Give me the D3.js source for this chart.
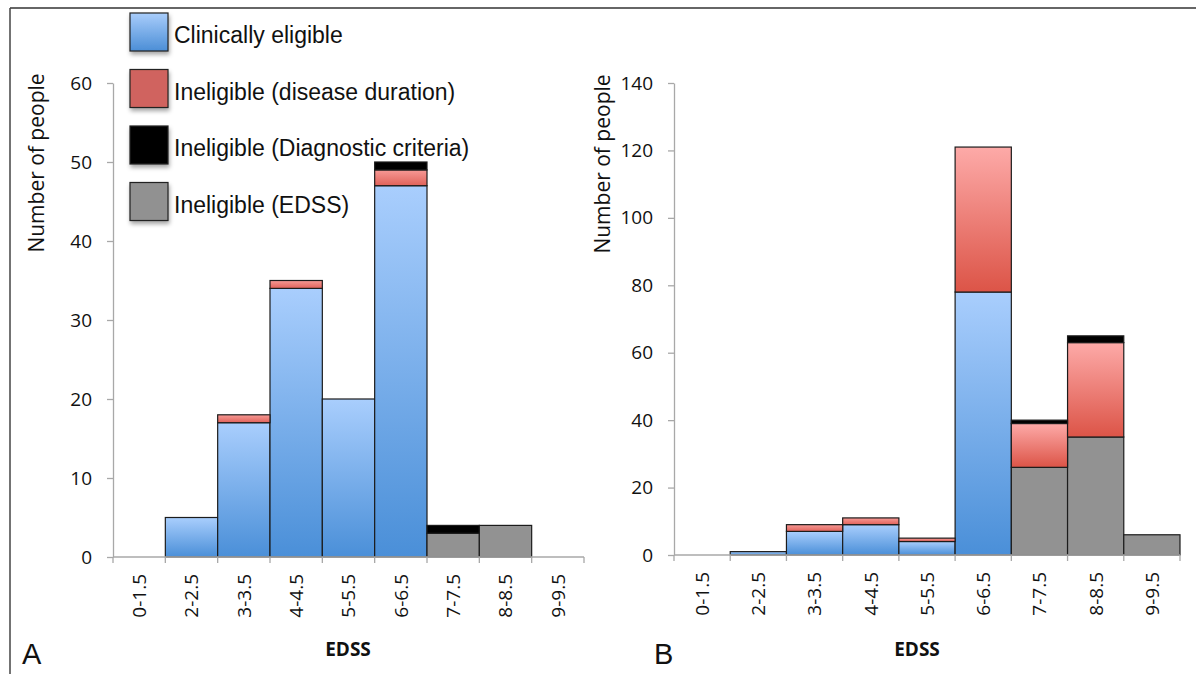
<!DOCTYPE html>
<html>
<head>
<meta charset="utf-8">
<script src="https://cdn.jsdelivr.net/npm/d3@7/dist/d3.min.js"></script>
<style>
  html, body { margin: 0; padding: 0; background: #fff; }
  svg { display: block; }
</style>
</head>
<body>
<svg id="chart" width="1196" height="674"></svg>
<script>
// ---------------- DATA ----------------
const categories = ["0-1.5", "2-2.5", "3-3.5", "4-4.5", "5-5.5", "6-6.5", "7-7.5", "8-8.5", "9-9.5"];
const seriesNames = ["Clinically eligible", "Ineligible (EDSS)", "Ineligible (disease duration)", "Ineligible (Diagnostic criteria)"];
const legendOrder = ["Clinically eligible", "Ineligible (disease duration)", "Ineligible (Diagnostic criteria)", "Ineligible (EDSS)"];

const aEligible   = [0, 5, 17, 34, 20, 47, 0, 0, 0];
const aEdss       = [0, 0, 0, 0, 0, 0, 3, 4, 0];
const aDuration   = [0, 0, 1, 1, 0, 2, 0, 0, 0];
const aDiagnostic = [0, 0, 0, 0, 0, 1, 1, 0, 0];

const bEligible   = [0, 1, 7, 9, 4, 78, 0, 0, 0];
const bEdss       = [0, 0, 0, 0, 0, 0, 26, 35, 6];
const bDuration   = [0, 0, 2, 2, 1, 43, 13, 28, 0];
const bDiagnostic = [0, 0, 0, 0, 0, 0, 1, 2, 0];

const aTicks = [0, 10, 20, 30, 40, 50, 60];
const bTicks = [0, 20, 40, 60, 80, 100, 120, 140];

// ---------------- SETUP ----------------
const svg = d3.select("#chart");
const defs = svg.append("defs");

function grad(id, top, bottom) {
  const g = defs.append("linearGradient").attr("id", id)
    .attr("x1", 0).attr("y1", 0).attr("x2", 0).attr("y2", 1);
  g.append("stop").attr("offset", "0%").attr("stop-color", top);
  g.append("stop").attr("offset", "100%").attr("stop-color", bottom);
}
grad("gBlue", "#a9cefd", "#4a8fd8");
grad("gRed", "#fdaaa8", "#dc5447");
grad("gRedThin", "#f79a96", "#e0625a");
grad("gLegBlue", "#a9cdfb", "#4b8ed6");

const shadow = defs.append("filter").attr("id", "shadow")
  .attr("x", "-20%").attr("y", "-20%").attr("width", "150%").attr("height", "150%");
shadow.append("feDropShadow").attr("dx", 1).attr("dy", 3).attr("stdDeviation", 2)
  .attr("flood-color", "#000").attr("flood-opacity", 0.35);

const fills = {
  "Clinically eligible": "url(#gBlue)",
  "Ineligible (EDSS)": "#929292",
  "Ineligible (disease duration)": "url(#gRed)",
  "Ineligible (Diagnostic criteria)": "#000"
};
const legendFills = {
  "Clinically eligible": "url(#gLegBlue)",
  "Ineligible (disease duration)": "#d0645e",
  "Ineligible (Diagnostic criteria)": "#000",
  "Ineligible (EDSS)": "#919191"
};

// frame
svg.append("line").attr("x1", 10).attr("x2", 1196).attr("y1", 8).attr("y2", 8)
  .attr("stroke", "#666").attr("stroke-width", 2);
svg.append("line").attr("x1", 10).attr("x2", 10).attr("y1", 8).attr("y2", 674)
  .attr("stroke", "#444").attr("stroke-width", 1.5);

const axisFont = "'Open Sans', 'DejaVu Sans', sans-serif";

function drawPanel(opt) {
  const rows = categories.map((c, i) => ({
    cat: c,
    "Clinically eligible": opt.eligible[i],
    "Ineligible (EDSS)": opt.edss[i],
    "Ineligible (disease duration)": opt.duration[i],
    "Ineligible (Diagnostic criteria)": opt.diagnostic[i]
  }));
  const x = d3.scaleBand().domain(categories).range([opt.x0, opt.x1]).padding(0);
  const y = d3.scaleLinear().domain([0, opt.ymax]).range([opt.y0, opt.y1]);
  const g = svg.append("g");

  // Y axis
  const yAxis = g.append("g").attr("transform", `translate(${opt.x0},0)`)
    .call(d3.axisLeft(y).tickValues(opt.ticks).tickSize(6).tickPadding(15).tickSizeOuter(0));
  yAxis.select(".domain").attr("stroke", "#a8a8a8").attr("stroke-width", 1.3);
  yAxis.selectAll(".tick line").attr("stroke", "#a8a8a8").attr("stroke-width", 1.3);
  yAxis.selectAll(".tick text").attr("font-family", axisFont).attr("font-size", 19)
    .attr("fill", "#111");

  // stacked bars
  const stack = d3.stack().keys(seriesNames)(rows);
  stack.forEach(layer => {
    const key = layer.key;
    g.append("g").selectAll("rect")
      .data(layer.filter(d => d[1] - d[0] > 0))
      .join("rect")
      .attr("x", d => x(d.data.cat))
      .attr("width", x.bandwidth())
      .attr("y", d => y(d[1]))
      .attr("height", d => y(d[0]) - y(d[1]))
      .attr("fill", d => (key === "Ineligible (disease duration)" && d[1] - d[0] <= 2) ? "url(#gRedThin)" : fills[key])
      .attr("stroke", "#1c1c1c")
      .attr("stroke-width", 1.2);
  });

  // X axis (ticks at band boundaries)
  const xAxisG = g.append("g").attr("transform", `translate(0,${opt.y0})`);
  xAxisG.append("line").attr("x1", opt.x0).attr("x2", opt.x1).attr("y1", 0).attr("y2", 0)
    .attr("stroke", "#a8a8a8").attr("stroke-width", 1.3);
  const bounds = categories.map(c => x(c)).concat([opt.x1]);
  xAxisG.selectAll("line.bt").data(bounds).join("line").attr("class", "bt")
    .attr("x1", d => d).attr("x2", d => d).attr("y1", 0).attr("y2", 6)
    .attr("stroke", "#a8a8a8").attr("stroke-width", 1.3);
  xAxisG.selectAll("text").data(categories).join("text")
    .attr("transform", d => `translate(${x(d) + x.bandwidth() / 2},17) rotate(-90)`)
    .attr("text-anchor", "end")
    .attr("dy", "0.36em")
    .attr("font-family", axisFont).attr("font-size", 19).attr("fill", "#111")
    .text(d => d);

  // axis titles
  g.append("text")
    .attr("transform", `translate(${opt.ylabX},${opt.ylabY}) rotate(-90)`)
    .attr("text-anchor", "middle")
    .attr("font-family", axisFont).attr("font-size", 21).attr("fill", "#111")
    .text("Number of people");
  g.append("text").attr("x", opt.xlabX).attr("y", 656)
    .attr("text-anchor", "middle")
    .attr("font-family", axisFont).attr("font-size", 19).attr("font-weight", "bold").attr("fill", "#111")
    .text("EDSS");
  g.append("text").attr("x", opt.letterX).attr("y", 664)
    .attr("font-family", "'Liberation Sans', Arial, sans-serif").attr("font-size", 29).attr("fill", "#111")
    .text(opt.letter);
}

drawPanel({
  eligible: aEligible, edss: aEdss, duration: aDuration, diagnostic: aDiagnostic,
  x0: 113, x1: 584, y0: 557, y1: 83, ymax: 60, ticks: aTicks,
  ylabX: 44, ylabY: 163, xlabX: 348, letter: "A", letterX: 22
});
drawPanel({
  eligible: bEligible, edss: bEdss, duration: bDuration, diagnostic: bDiagnostic,
  x0: 674, x1: 1180, y0: 555, y1: 83, ymax: 140, ticks: bTicks,
  ylabX: 610, ylabY: 164, xlabX: 917, letter: "B", letterX: 654
});

// legend
const leg = svg.append("g");
const legItems = leg.selectAll("g").data(legendOrder).join("g")
  .attr("transform", (d, i) => `translate(130,${13 + i * 56.5})`);
legItems.append("rect").attr("width", 38).attr("height", 38)
  .attr("fill", d => legendFills[d]).attr("stroke", "#222").attr("stroke-width", 1.2)
  .attr("filter", "url(#shadow)");
legItems.append("text").attr("x", 44).attr("y", 30)
  .attr("font-family", "'Liberation Sans', Arial, sans-serif").attr("font-size", 23).attr("fill", "#111")
  .text(d => d);
</script>
</body>
</html>
